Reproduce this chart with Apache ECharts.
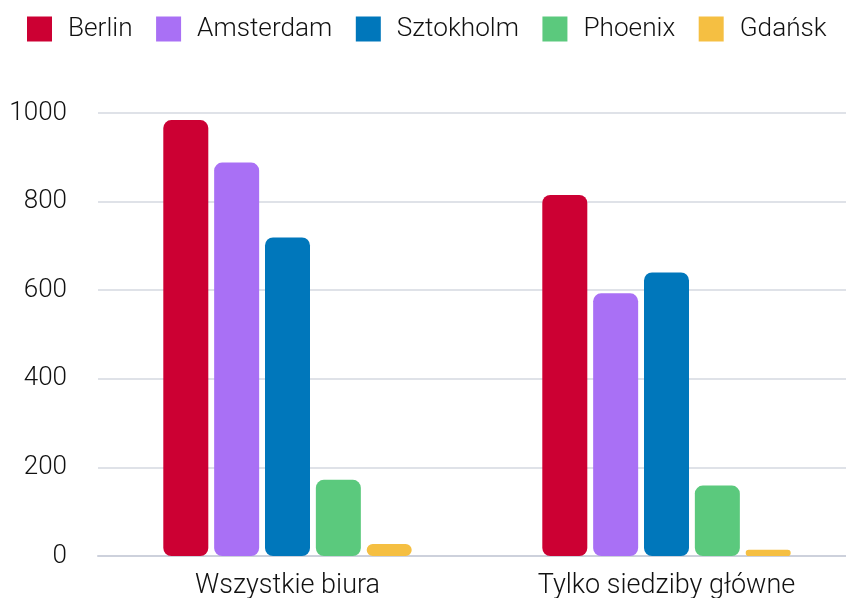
<!DOCTYPE html>
<html><head><meta charset="utf-8">
<script src="https://cdn.jsdelivr.net/npm/echarts@6/dist/echarts.min.js"></script>
<style>html,body{margin:0;padding:0;background:#fff}#c{width:846px;height:598px}</style>
</head><body><div id="c"></div>
<script>
const categories = ['Wszystkie biura', 'Tylko siedziby główne'];
const seriesNames = ['Berlin', 'Amsterdam', 'Sztokholm', 'Phoenix', 'Gdańsk'];
const berlin = [984, 815];
const amsterdam = [888, 593];
const sztokholm = [719, 640];
const phoenix = [172, 159];
const gdansk = [27, 14];
const colors = ['#CC0033', '#A970F5', '#0077BB', '#5BC97D', '#F5BF42'];
const yTicks = [0, 200, 400, 600, 800, 1000];

const values = [berlin, amsterdam, sztokholm, phoenix, gdansk];
const chart = echarts.init(document.getElementById('c'));
const font = 'Roboto';
chart.setOption({
  animation: false,
  legend: {
    top: 11, left: 22,
    itemWidth: 25, itemHeight: 25, itemGap: 23.5,
    icon: 'rect',
    textStyle: { fontFamily: font, fontSize: 26.2, fontWeight: 300, color: '#111', padding: [0, 0, 0, 11] },
    data: seriesNames
  },
  grid: { left: 98, width: 758, top: 113, height: 443, containLabel: false, outerBoundsMode: 'none' },
  xAxis: {
    type: 'category', data: categories,
    axisLine: { lineStyle: { color: '#cdd1dc', width: 2 } },
    axisTick: { show: false },
    axisLabel: { fontFamily: font, fontSize: 27, fontWeight: 300, color: '#111', margin: 17 }
  },
  yAxis: {
    type: 'value', min: yTicks[0], max: yTicks[yTicks.length - 1], interval: 200,
    axisLine: { show: false }, axisTick: { show: false },
    axisLabel: { fontFamily: font, fontSize: 26, fontWeight: 300, color: '#111', margin: 31, formatter: v => String(v) },
    splitLine: { lineStyle: { color: '#d5d8e1', width: 1.5 } }
  },
  series: seriesNames.map((n, i) => ({
    name: n, type: 'bar', data: values[i],
    barWidth: 45, barGap: '13%',
    itemStyle: { color: colors[i], borderRadius: 8 }
  }))
});
</script></body></html>
